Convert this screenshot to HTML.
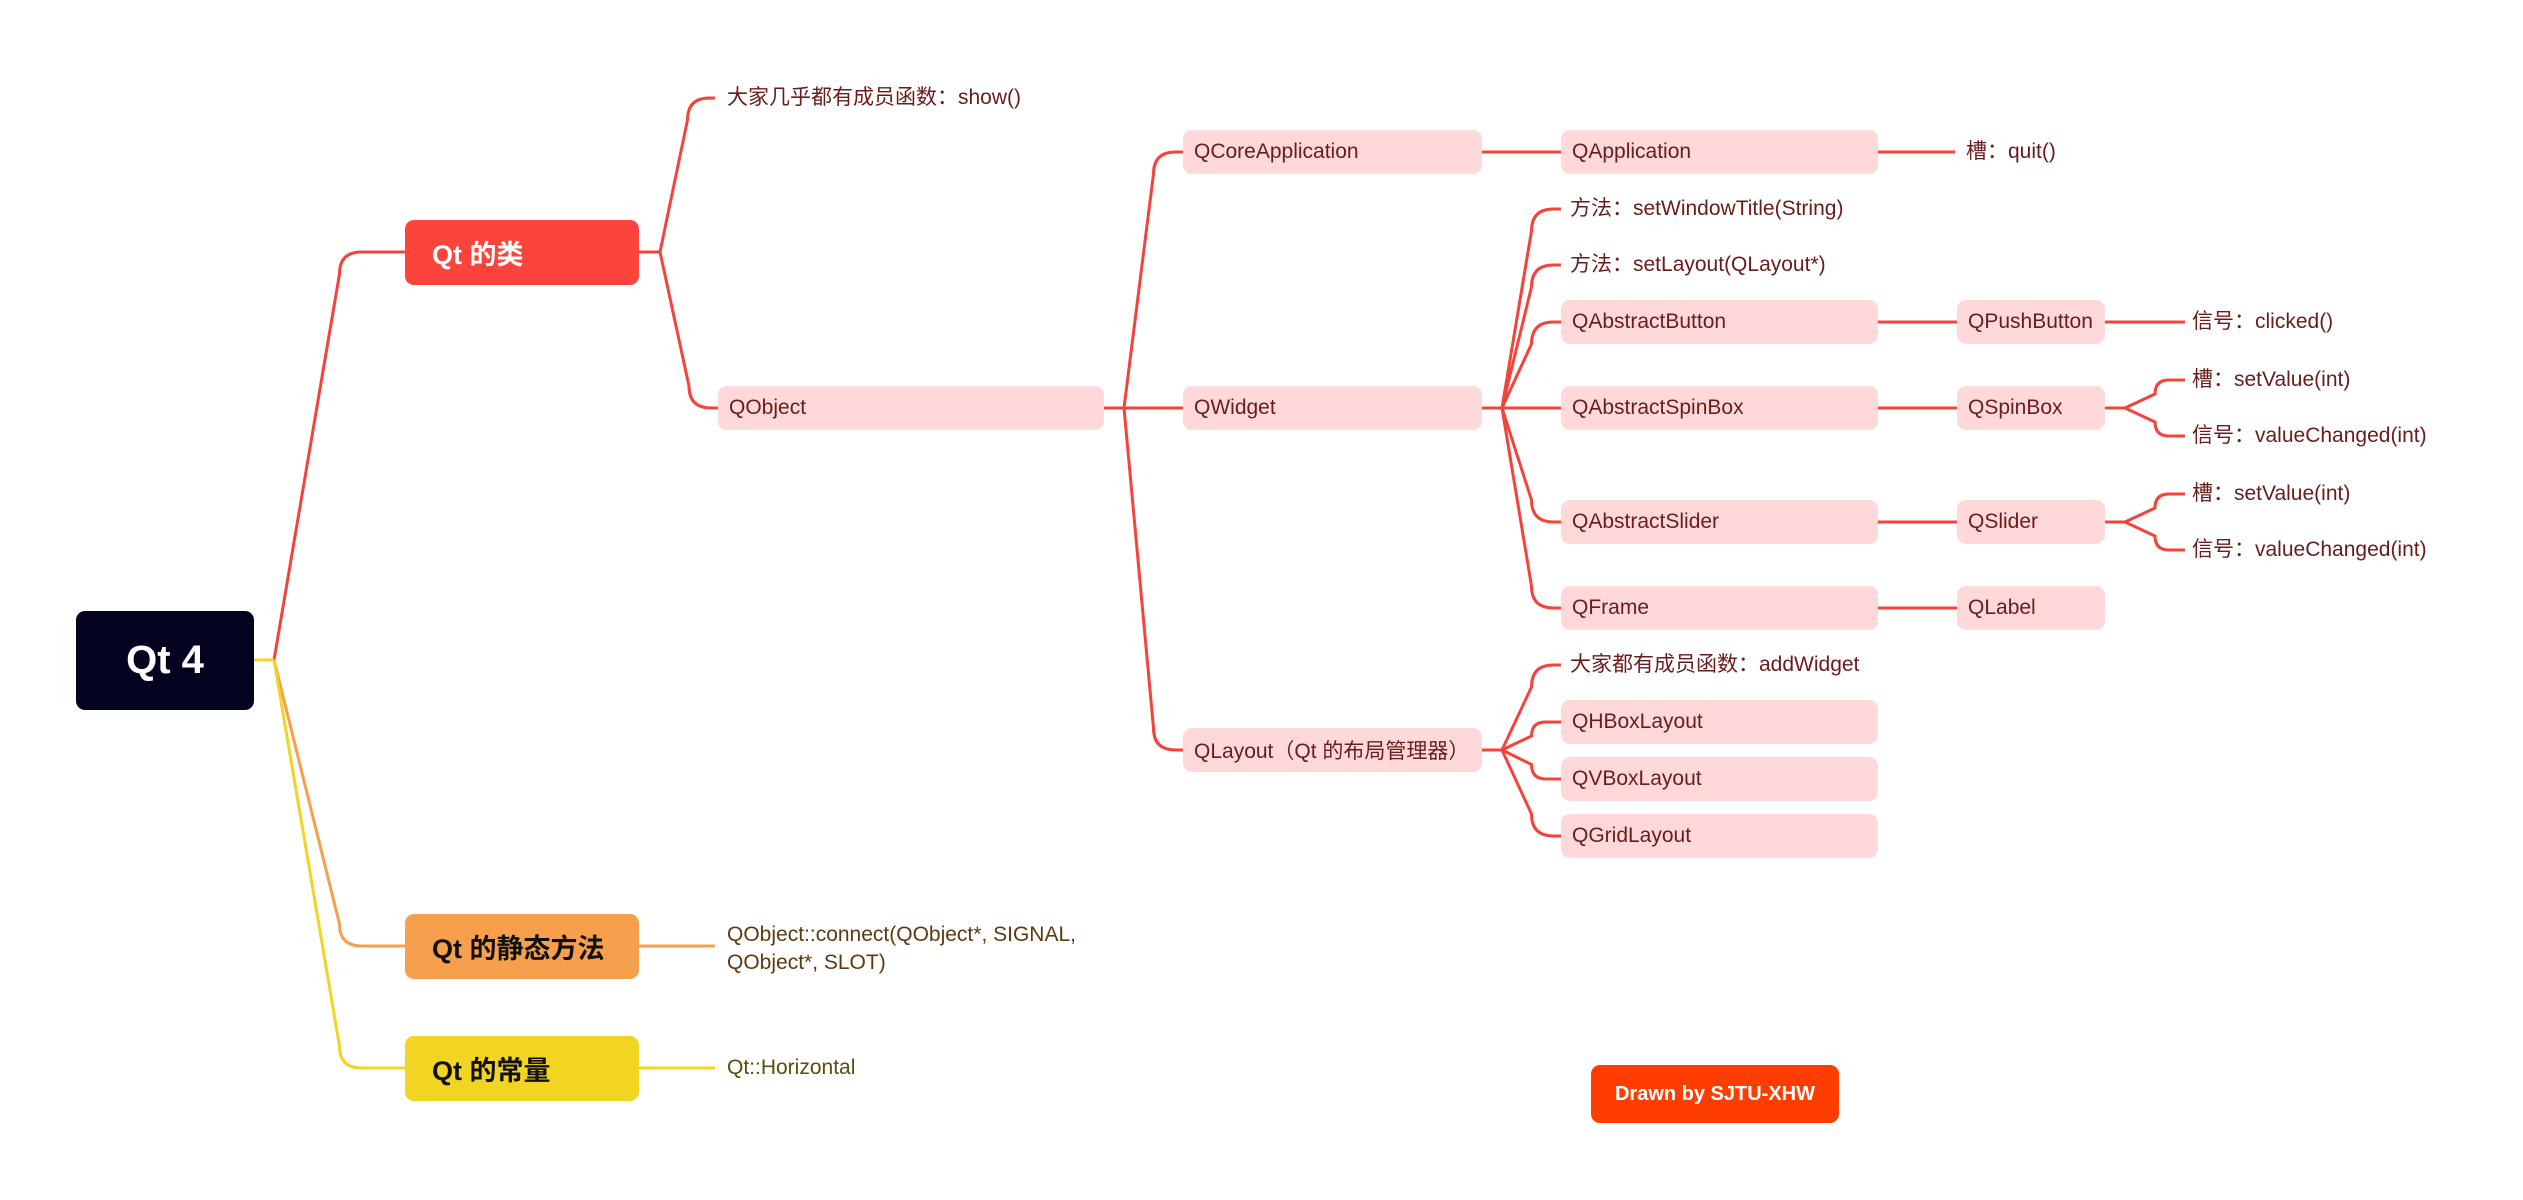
<!DOCTYPE html>
<html><head><meta charset="utf-8"><style>
body{margin:0;width:2523px;height:1200px;background:#fff;position:relative;overflow:hidden;font-family:"Liberation Sans","Noto Sans CJK SC",sans-serif;}
.n{position:absolute;box-sizing:border-box;border-radius:9px;display:flex;align-items:center;white-space:nowrap;}
.p{background:#ffd9d9;color:#6a1b1b;font-size:21px;height:44px;padding-left:11px;}
.t{position:absolute;color:#6a1b1b;font-size:21px;white-space:nowrap;line-height:24px;}
.m{font-weight:bold;font-size:27px;padding-left:27px;height:65px;width:234px;}
svg{position:absolute;left:0;top:0;}
</style></head><body>
<svg id="s" width="2523" height="1200"></svg>
<div class="n" style="left:76px;top:611px;width:178px;height:99px;background:#03031f;color:#fff;font-size:40px;font-weight:bold;justify-content:center;">Qt 4</div>
<div class="n m" style="left:405px;top:220px;background:#fa443c;color:#fff;">Qt 的类</div>
<div class="n m" style="left:405px;top:914px;background:#f6a04d;color:#111;">Qt 的静态方法</div>
<div class="n m" style="left:405px;top:1036px;background:#f2d422;color:#111;">Qt 的常量</div>
<div class="t" style="left:727px;top:86px;">大家几乎都有成员函数：show()</div>
<div class="n p" style="left:718px;top:386px;width:386px;">QObject</div>
<div class="t" style="left:727px;top:921px;color:#5c3a10;line-height:28px;">QObject::connect(QObject*, SIGNAL,<br>QObject*, SLOT)</div>
<div class="t" style="left:727px;top:1056px;color:#5a4d10;">Qt::Horizontal</div>
<div class="n p" style="left:1183px;top:130px;width:299px;">QCoreApplication</div>
<div class="n p" style="left:1183px;top:386px;width:299px;">QWidget</div>
<div class="n p" style="left:1183px;top:728px;width:299px;">QLayout（Qt 的布局管理器）</div>
<div class="n p" style="left:1561px;top:130px;width:317px;">QApplication</div>
<div class="t" style="left:1570px;top:197px;">方法：setWindowTitle(String)</div>
<div class="t" style="left:1570px;top:253px;">方法：setLayout(QLayout*)</div>
<div class="n p" style="left:1561px;top:300px;width:317px;">QAbstractButton</div>
<div class="n p" style="left:1561px;top:386px;width:317px;">QAbstractSpinBox</div>
<div class="n p" style="left:1561px;top:500px;width:317px;">QAbstractSlider</div>
<div class="n p" style="left:1561px;top:586px;width:317px;">QFrame</div>
<div class="t" style="left:1570px;top:653px;">大家都有成员函数：addWidget</div>
<div class="n p" style="left:1561px;top:700px;width:317px;">QHBoxLayout</div>
<div class="n p" style="left:1561px;top:757px;width:317px;">QVBoxLayout</div>
<div class="n p" style="left:1561px;top:814px;width:317px;">QGridLayout</div>
<div class="n p" style="left:1957px;top:300px;width:148px;">QPushButton</div>
<div class="n p" style="left:1957px;top:386px;width:148px;">QSpinBox</div>
<div class="n p" style="left:1957px;top:500px;width:148px;">QSlider</div>
<div class="n p" style="left:1957px;top:586px;width:148px;">QLabel</div>
<div class="t" style="left:1966px;top:140px;">槽：quit()</div>
<div class="t" style="left:2192px;top:310px;">信号：clicked()</div>
<div class="t" style="left:2192px;top:368px;">槽：setValue(int)</div>
<div class="t" style="left:2192px;top:424px;">信号：valueChanged(int)</div>
<div class="t" style="left:2192px;top:482px;">槽：setValue(int)</div>
<div class="t" style="left:2192px;top:538px;">信号：valueChanged(int)</div>
<div class="n" style="left:1591px;top:1065px;width:248px;height:58px;background:#ff3d00;color:#fff;font-size:20px;font-weight:bold;justify-content:center;">Drawn by SJTU-XHW</div>
<script>
var s=document.getElementById('s'),R='#f4433b';
function L(d,c,w){var p=document.createElementNS('http://www.w3.org/2000/svg','path');p.setAttribute('d',d);p.setAttribute('stroke',c);p.setAttribute('stroke-width',w||3);p.setAttribute('fill','none');s.appendChild(p);}
function br(px,jx,py,cx,cy,c){L('M'+px+' '+py+'H'+jx,c);
 if(Math.abs(cy-py)<2){L('M'+jx+' '+py+'H'+cx,c);return;}
 var sg=cy>py?1:-1,bx=jx+0.5*(cx-jx),r=Math.min(22,Math.abs(cy-py)/2,cx-bx-2);
 L('M'+jx+' '+py+'L'+bx+' '+(cy-sg*r)+'Q'+bx+' '+cy+' '+(bx+r)+' '+cy+'H'+cx,c);}
br(254,274,660,405,252,R);br(254,274,660,405,946,'#f6a04d');br(254,274,660,405,1068,'#f2d422');
br(639,660,252,715,98,R);br(639,660,252,718,408,R);
br(639,639,946,715,946,'#f6a04d');br(639,639,1068,715,1068,'#f2d422');
[152,408,750].forEach(function(y){br(1104,1124,408,1183,y,R);});
br(1482,1482,152,1561,152,R);br(1878,1878,152,1955,152,R);
[209,265,322,408,522,608].forEach(function(y){br(1482,1502,408,1561,y,R);});
[665,722,779,836].forEach(function(y){br(1482,1502,750,1561,y,R);});
[322,408,522,608].forEach(function(y){br(1878,1878,y,1957,y,R);});
br(2105,2105,322,2185,322,R);
[380,436].forEach(function(y){br(2105,2125,408,2185,y,R);});
[494,550].forEach(function(y){br(2105,2125,522,2185,y,R);});
</script>
</body></html>
